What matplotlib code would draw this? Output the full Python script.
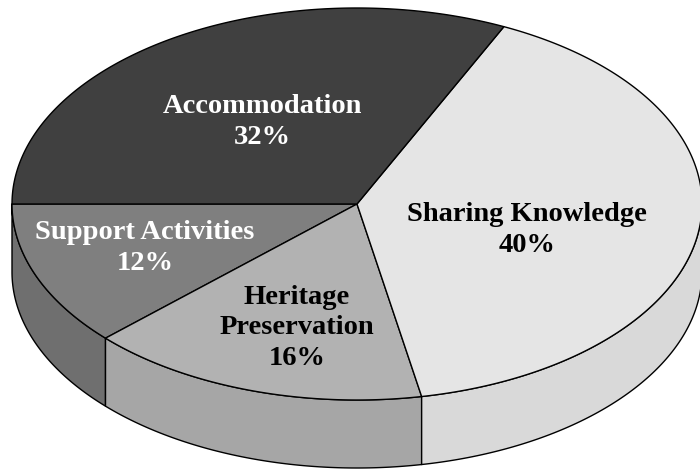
import numpy as np
import matplotlib
matplotlib.use("Agg")
import matplotlib.pyplot as plt
from matplotlib.patches import Polygon

# slices in drawing order, counter-clockwise starting from the left (180 deg)
labels = ["Support Activities", "Heritage\nPreservation", "Sharing Knowledge", "Accommodation"]
shares = [12, 16, 40, 32]
top_colors = ["#7f7f7f", "#b2b2b2", "#e5e5e5", "#404040"]
side_colors = ["#6f6f6f", "#a6a6a6", "#d9d9d9", "#353535"]
text_colors = ["white", "black", "black", "white"]
label_pos = [(145, 248), (297, 328), (527, 230), (262, 122)]

# geometry of the tilted disc, in pixels
cx, cy = 357, 204
rx, ry = 345, 196
depth = 68
start = 180.0


def rim(t, dy=0.0):
    t = np.radians(t)
    return np.column_stack([cx + rx * np.cos(t), cy - ry * np.sin(t) + dy])


fig = plt.figure(figsize=(7, 4.75), dpi=100)
ax = fig.add_axes([0, 0, 1, 1])
ax.set_xlim(0, 700)
ax.set_ylim(475, 0)
ax.axis("off")

bounds = start + 360 * np.concatenate([[0], np.cumsum(shares)]) / sum(shares)

# sides (only the front half, 180..360 deg, is visible)
for i in range(len(shares)):
    t0, t1 = max(bounds[i], 180), min(bounds[i + 1], 360)
    if t1 <= t0:
        continue
    ts = np.linspace(t0, t1, 100)
    pts = np.vstack([rim(ts), rim(ts[::-1], depth)])
    ax.add_patch(Polygon(pts, closed=True, facecolor=side_colors[i],
                         edgecolor="black", lw=1.0, joinstyle="round"))

# top surface
for i in range(len(shares)):
    ts = np.linspace(bounds[i], bounds[i + 1], 200)
    pts = np.vstack([[cx, cy], rim(ts)])
    ax.add_patch(Polygon(pts, closed=True, facecolor=top_colors[i],
                         edgecolor="black", lw=1.0, joinstyle="round"))

for i, lab in enumerate(labels):
    x, y = label_pos[i]
    ax.text(x, y, f"{lab}\n{shares[i]}%", ha="center", va="center",
            color=text_colors[i], fontsize=20.5, fontweight="bold",
            family="Liberation Serif", linespacing=1.27)

fig.savefig("out.png", dpi=100)
